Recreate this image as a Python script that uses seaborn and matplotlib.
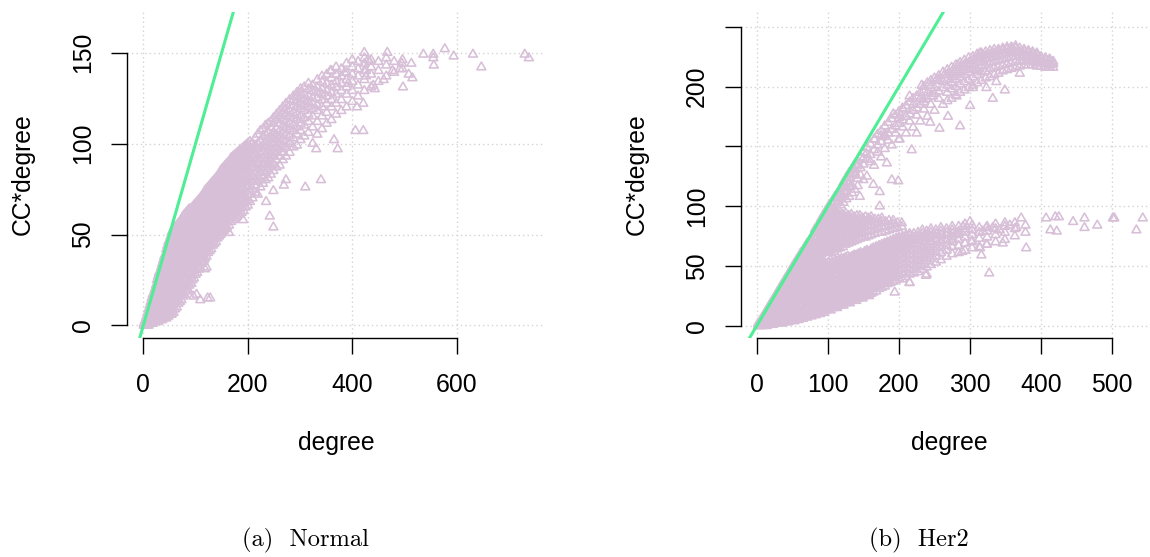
import matplotlib
matplotlib.use("Agg")
import matplotlib.pyplot as plt
from matplotlib.path import Path
import pandas as pd
import seaborn as sns

POINT_COLOR = "#D8BFD8"   # thistle
LINE_COLOR = "#4EEE94"    # seagreen2
GRID_COLOR = "#D3D3D3"

# ---------------------------------------------------------------- Normal
# (degree, [CC*degree values observed at that degree])
normal_dense = [
    (1, [0, 1]), (3, [0, 1, 2]), (4, [0, 3]), (6, [0, 2, 4, 5]),
    (8, [1, 3, 5, 7]), (10, [0, 2, 5, 7, 9]), (12, [1, 4, 6, 9, 11]),
    (14, [1, 3, 6, 8, 11, 13]), (16, [2, 5, 7, 10, 13, 15]),
    (18, [1, 4, 8, 10, 13, 16, 17]), (20, [2, 6, 9, 11, 15, 18]),
    (22, [3, 5, 8, 12, 14, 17, 20]), (24, [2, 6, 10, 13, 16, 19, 22]),
    (26, [3, 7, 9, 12, 16, 20, 23, 25]), (28, [2, 5, 8, 12, 15, 18, 22, 24, 27]),
    (30, [4, 7, 11, 14, 17, 21, 24, 26, 29]), (32, [3, 6, 9, 13, 16, 20, 23, 27, 30]),
    (34, [4, 8, 11, 15, 18, 22, 25, 28, 32]),
    (36, [3, 6, 10, 14, 17, 21, 24, 28, 31, 34]),
    (38, [5, 8, 12, 15, 19, 23, 26, 30, 33, 36]),
    (40, [4, 7, 11, 14, 18, 22, 25, 29, 32, 35, 38]),
    (42, [5, 9, 13, 16, 20, 24, 27, 31, 34, 37, 39]),
    (44, [4, 8, 12, 15, 19, 23, 26, 30, 33, 37, 40, 42]),
    (46, [6, 10, 13, 17, 21, 25, 28, 32, 35, 38, 41, 44]),
    (48, [5, 9, 12, 16, 20, 23, 27, 31, 34, 37, 40, 43, 46]),
    (50, [6, 11, 14, 18, 22, 25, 29, 33, 36, 39, 42, 45, 47]),
    (52, [7, 10, 13, 17, 21, 24, 28, 32, 35, 38, 41, 44, 47, 49]),
    (54, [6, 9, 15, 19, 23, 26, 30, 34, 37, 40, 43, 46, 49, 51]),
    (56, [8, 11, 14, 18, 22, 25, 29, 33, 36, 39, 42, 45, 48, 50, 52]),
    (58, [7, 12, 16, 20, 24, 27, 31, 35, 38, 41, 44, 47, 50, 53]),
    (61, [9, 13, 17, 21, 25, 28, 32, 36, 39, 42, 45, 48, 51, 54]),
    (64, [10, 15, 19, 22, 26, 30, 34, 37, 40, 43, 47, 50, 53, 55]),
    (67, [12, 14, 18, 23, 27, 31, 35, 38, 42, 45, 48, 51, 54, 56]),
    (70, [13, 17, 21, 25, 29, 32, 36, 39, 43, 46, 49, 52, 55, 57]),
    (73, [14, 19, 22, 26, 30, 34, 37, 41, 44, 47, 50, 53, 56, 58]),
    (76, [16, 18, 23, 28, 31, 35, 39, 42, 45, 48, 51, 54, 57, 60]),
    (79, [17, 21, 25, 29, 33, 36, 40, 43, 46, 49, 52, 55, 58, 61]),
    (82, [19, 22, 26, 30, 34, 38, 41, 44, 47, 50, 53, 56, 59, 62]),
    (85, [20, 24, 28, 32, 35, 39, 42, 45, 48, 51, 54, 57, 60, 63]),
    (88, [22, 25, 29, 33, 37, 40, 43, 46, 50, 53, 56, 59, 61, 64]),
    (91, [23, 27, 31, 34, 38, 41, 44, 48, 51, 54, 57, 60, 62, 64]),
    (94, [25, 28, 32, 36, 39, 42, 46, 49, 52, 55, 58, 61, 63, 65]),
    (97, [26, 30, 34, 37, 40, 44, 47, 50, 53, 56, 59, 62, 64, 66]),
    (100, [28, 31, 35, 38, 42, 45, 48, 51, 54, 57, 60, 63, 65, 67]),
    (103, [29, 33, 36, 40, 43, 46, 49, 52, 55, 58, 61, 64, 66, 68]),
    (106, [31, 34, 38, 41, 44, 47, 50, 53, 56, 59, 62, 65, 67, 69]),
    (109, [32, 36, 39, 42, 45, 48, 52, 55, 58, 61, 63, 66, 68, 70]),
    (112, [34, 37, 40, 44, 47, 50, 53, 56, 59, 62, 64, 67, 69, 71]),
    (115, [35, 39, 42, 45, 48, 51, 54, 57, 60, 63, 66, 68, 70, 72]),
    (118, [37, 40, 43, 46, 49, 53, 56, 59, 61, 64, 67, 69, 71, 74]),
    (121, [38, 41, 45, 48, 51, 54, 57, 60, 63, 65, 68, 70, 73, 75]),
    (124, [40, 43, 46, 49, 52, 55, 58, 61, 64, 66, 69, 72, 74, 76]),
    (127, [41, 44, 47, 50, 53, 56, 59, 62, 65, 68, 70, 73, 75, 77]),
    (130, [42, 45, 49, 52, 55, 58, 61, 63, 66, 69, 71, 74, 76, 78]),
    (133, [44, 47, 50, 53, 56, 59, 62, 65, 67, 70, 73, 75, 77, 79]),
    (136, [45, 48, 51, 54, 57, 60, 63, 66, 69, 71, 74, 76, 78, 80]),
    (139, [46, 49, 53, 56, 59, 61, 64, 67, 70, 72, 75, 77, 79, 81]),
    (142, [48, 51, 54, 57, 60, 63, 65, 68, 71, 73, 76, 78, 80, 82]),
    (145, [49, 52, 55, 58, 61, 64, 67, 69, 72, 74, 77, 79, 81, 83]),
    (148, [50, 53, 56, 59, 62, 65, 68, 70, 73, 75, 78, 80, 82, 85]),
    (151, [51, 54, 57, 60, 63, 66, 69, 71, 74, 77, 79, 81, 84, 86]),
    (154, [52, 55, 58, 61, 64, 67, 70, 72, 75, 78, 80, 83, 85, 87]),
    (157, [53, 56, 59, 62, 65, 68, 71, 73, 76, 79, 81, 84, 86, 88]),
    (160, [54, 57, 60, 63, 66, 69, 72, 74, 77, 80, 82, 85, 87, 89]),
    (164, [55, 58, 61, 64, 67, 70, 73, 76, 78, 81, 83, 86, 88, 90]),
    (168, [57, 60, 63, 66, 69, 72, 74, 77, 80, 82, 85, 87, 89, 92]),
    (172, [58, 61, 64, 67, 70, 73, 76, 78, 81, 84, 86, 88, 91, 93]),
    (176, [59, 62, 65, 68, 71, 74, 77, 80, 82, 85, 87, 90, 92, 94]),
    (180, [60, 63, 66, 69, 72, 75, 78, 81, 84, 86, 88, 91, 93, 95]),
    (184, [61, 64, 67, 70, 73, 76, 79, 82, 85, 87, 90, 92, 94, 96]),
    (188, [62, 65, 68, 72, 75, 78, 81, 83, 86, 89, 91, 93, 95, 97]),
    (192, [63, 67, 70, 73, 76, 79, 82, 85, 87, 90, 92, 94, 96, 98]),
    (196, [65, 68, 71, 74, 77, 80, 83, 86, 89, 91, 93, 95, 97, 99]),
    (200, [66, 69, 72, 76, 79, 82, 85, 87, 90, 92, 94, 96, 98, 100]),
]
normal_spread = [
    (204, [68, 74, 77, 81, 84, 89, 91, 96, 98, 101]),
    (209, [70, 75, 79, 82, 87, 89, 93, 97, 100]),
    (214, [73, 77, 80, 85, 87, 92, 94, 99, 103]),
    (219, [72, 79, 82, 86, 89, 93, 97, 100, 105]),
    (224, [76, 80, 84, 87, 91, 95, 98, 101, 107]),
    (229, [78, 82, 85, 89, 92, 96, 99, 104, 108]),
    (234, [80, 84, 87, 90, 94, 98, 101, 105, 110]),
    (239, [81, 86, 89, 93, 96, 99, 103, 106, 111]),
    (244, [83, 88, 91, 94, 98, 101, 104, 109, 112]),
    (249, [85, 89, 93, 96, 100, 103, 106, 111, 114]),
    (255, [87, 91, 95, 98, 102, 105, 108, 113, 116]),
    (261, [88, 93, 97, 100, 104, 107, 111, 115, 118]),
    (267, [91, 95, 99, 102, 106, 110, 113, 117, 120]),
    (273, [93, 98, 101, 105, 109, 112, 116, 119, 122]),
    (280, [95, 100, 104, 108, 111, 115, 118, 121, 124]),
    (287, [98, 103, 107, 110, 114, 117, 121, 124, 126]),
    (294, [99, 105, 109, 113, 116, 120, 123, 126, 128]),
    (301, [102, 107, 111, 115, 119, 122, 125, 128, 130]),
    (308, [104, 110, 114, 118, 121, 124, 127, 131]),
    (316, [106, 112, 116, 120, 123, 126, 130, 133]),
    (324, [100, 109, 115, 119, 122, 125, 129, 132]),
    (333, [105, 112, 118, 121, 125, 128, 131, 135]),
    (342, [108, 115, 120, 124, 127, 130, 134, 137]),
    (351, [111, 117, 122, 126, 129, 133, 138]),
    (360, [113, 120, 124, 128, 132, 136, 140]),
    (369, [116, 122, 127, 131, 134, 138, 142]),
    (379, [118, 124, 129, 133, 137, 141]),
    (389, [120, 127, 131, 135, 139, 144]),
    (400, [123, 129, 134, 138, 142, 146]),
    (411, [126, 132, 137, 141, 145]),
    (423, [129, 135, 140, 144, 147]),
    (436, [131, 138, 142, 146]),
    (450, [134, 140, 145]),
    (465, [137, 143, 147]),
    (480, [139, 145]),
    (496, [141, 146]),
]
normal_extra_x = [123, 109, 96, 121, 116, 92, 128, 102, 86, 118, 106,
                  164, 191, 235, 249, 249, 242, 273, 269, 310, 340, 331,
                  365, 372, 406, 421, 409, 421, 385, 392, 358, 423, 433,
                  430, 426, 426, 440, 443, 460, 467, 477, 491, 495, 497,
                  508, 513, 515, 536, 555, 555, 556, 577, 594, 631, 647,
                  730, 738]
normal_extra_y = [15, 14, 16, 32, 36, 23, 15, 17, 19, 31, 31,
                  51, 58, 68, 74, 54, 60, 80, 77, 76, 80, 97,
                  102, 97, 107, 107, 120, 122, 139, 133, 140, 150, 145,
                  146, 140, 137, 132, 130, 135, 150, 140, 141, 144, 131,
                  138, 144, 136, 149, 149, 147, 143, 152, 148, 149, 142,
                  149, 147]

# ---------------------------------------------------------------- Her2
her2_fan = [
    (2, [0, 1, 2]), (4, [0, 2, 3]), (6, [0, 1, 3, 5]), (8, [0, 2, 4, 6, 7]),
    (10, [1, 3, 5, 7, 9]), (12, [1, 3, 6, 8, 11]), (14, [0, 2, 5, 7, 10, 13]),
    (16, [1, 4, 6, 9, 12, 15]), (18, [1, 3, 6, 10, 13, 15, 17]),
    (20, [2, 4, 7, 11, 14, 16, 19]), (23, [1, 4, 8, 11, 14, 18, 20, 22]),
    (26, [2, 5, 9, 12, 15, 19, 22, 25]), (29, [2, 6, 9, 13, 17, 20, 24, 26, 28]),
    (32, [3, 5, 8, 12, 16, 19, 23, 26, 29, 31]),
    (35, [2, 6, 10, 14, 17, 21, 24, 28, 31, 34]),
    (38, [3, 7, 11, 14, 18, 22, 25, 29, 32, 35, 37]),
    (41, [4, 6, 10, 13, 17, 21, 25, 28, 32, 35, 38, 40]),
    (44, [3, 7, 11, 15, 19, 22, 26, 30, 33, 37, 40, 43]),
    (47, [4, 8, 12, 16, 19, 23, 27, 31, 34, 38, 41, 44, 46]),
    (50, [5, 7, 11, 15, 19, 23, 27, 30, 34, 38, 41, 44, 47, 49]),
    (53, [4, 8, 13, 17, 20, 24, 28, 32, 35, 39, 43, 46, 49, 52]),
    (56, [6, 9, 12, 16, 21, 25, 29, 33, 36, 40, 44, 47, 50, 53, 55]),
    (59, [5, 10, 14, 18, 22, 26, 30, 33, 37, 41, 45, 48, 51, 54, 57]),
    (62, [7, 9, 13, 17, 21, 25, 29, 33, 37, 41, 44, 48, 52, 55, 58, 61]),
    (65, [6, 11, 15, 19, 23, 27, 31, 35, 39, 42, 46, 50, 53, 57, 60, 63]),
    (68, [8, 10, 14, 18, 22, 26, 30, 34, 38, 42, 46, 49, 53, 56, 60, 63, 66]),
    (71, [7, 12, 16, 20, 24, 28, 32, 36, 40, 44, 48, 51, 55, 58, 62, 65, 69]),
    (74, [9, 11, 15, 19, 23, 27, 31, 35, 39, 43, 47, 51, 54, 58, 61, 65, 68, 71]),
    (77, [8, 13, 17, 21, 25, 29, 33, 37, 41, 45, 49, 53, 56, 60, 63, 67, 70, 73]),
    (80, [10, 12, 16, 20, 24, 28, 32, 36, 40, 44, 48, 52, 55, 59, 63, 66, 70, 74, 77]),
    (83, [9, 14, 18, 22, 26, 30, 34, 38, 42, 46, 50, 54, 57, 61, 65, 68, 72, 75, 79]),
    (86, [11, 13, 17, 21, 25, 29, 33, 37, 41, 45, 49, 53, 57, 60, 64, 68, 71, 75, 78, 82]),
    (89, [10, 15, 19, 23, 27, 31, 35, 39, 43, 47, 51, 55, 59, 62, 66, 70, 73, 77, 80, 84]),
    (92, [12, 14, 18, 22, 26, 30, 34, 38, 42, 46, 50, 54, 61, 64, 68, 72, 75, 79, 83, 86]),
    (95, [11, 16, 20, 24, 28, 32, 36, 40, 44, 48, 52, 62, 66, 70, 73, 77, 81, 84, 88]),
    (98, [13, 15, 19, 23, 27, 31, 35, 39, 43, 47, 51, 63, 67, 71, 75, 78, 82, 86, 90]),
]
her2_lower = [
    (101, [14, 17, 21, 25, 29, 33, 37, 41, 45, 49, 53]),
    (104, [13, 16, 20, 24, 28, 32, 36, 40, 44, 48, 52, 55]),
    (107, [15, 18, 22, 26, 30, 34, 38, 42, 46, 50, 53]),
    (110, [16, 19, 23, 27, 31, 35, 39, 43, 47, 51, 54]),
    (113, [15, 18, 22, 26, 30, 34, 38, 42, 46, 50, 54]),
    (116, [17, 20, 24, 28, 32, 36, 40, 44, 48, 52, 55]),
    (119, [18, 22, 26, 30, 34, 38, 42, 46, 50, 53, 56]),
    (122, [17, 21, 25, 29, 33, 37, 41, 45, 49, 53, 56]),
    (125, [19, 23, 27, 31, 35, 39, 43, 47, 51, 54, 57]),
    (128, [20, 24, 28, 32, 36, 40, 44, 48, 52, 55, 58]),
    (131, [19, 22, 26, 30, 34, 38, 42, 46, 50, 54, 57]),
    (134, [21, 24, 28, 32, 36, 40, 44, 48, 52, 56, 58]),
    (137, [22, 26, 30, 34, 38, 42, 46, 50, 54, 57, 59]),
    (140, [21, 25, 29, 33, 37, 41, 45, 49, 53, 56, 59]),
    (143, [23, 27, 31, 35, 39, 43, 47, 51, 55, 58, 60]),
    (146, [24, 28, 32, 36, 40, 44, 48, 52, 56, 59, 61]),
    (149, [23, 26, 30, 34, 38, 42, 46, 50, 54, 57, 60]),
    (152, [25, 29, 33, 37, 41, 45, 49, 53, 57, 60, 62]),
    (155, [26, 30, 34, 38, 42, 46, 50, 54, 58, 61, 63]),
    (158, [25, 28, 32, 36, 40, 44, 48, 52, 56, 59, 62]),
    (161, [27, 31, 35, 39, 43, 47, 51, 55, 59, 62, 64]),
    (164, [28, 32, 36, 40, 44, 48, 52, 56, 60, 63, 65]),
    (168, [29, 33, 37, 41, 45, 49, 53, 57, 61, 64, 66]),
    (172, [31, 34, 38, 42, 46, 50, 54, 58, 62, 65, 67]),
    (176, [32, 36, 40, 44, 48, 52, 56, 60, 63, 66, 68]),
    (180, [33, 37, 41, 45, 49, 53, 57, 61, 64, 67, 69]),
    (184, [35, 38, 42, 46, 50, 54, 58, 62, 65, 68, 70]),
    (188, [36, 40, 44, 48, 52, 56, 60, 63, 66, 69, 71]),
    (192, [37, 41, 45, 49, 53, 57, 61, 64, 67, 70, 72]),
    (196, [38, 42, 46, 50, 54, 58, 62, 65, 68, 71, 73]),
    (200, [40, 43, 47, 51, 55, 59, 63, 66, 69, 72, 74]),
    (205, [39, 44, 48, 52, 56, 60, 64, 67, 70, 73, 75]),
    (210, [41, 45, 49, 53, 57, 61, 65, 68, 71, 74, 76]),
    (215, [36, 43, 47, 51, 55, 59, 63, 66, 69, 72, 75, 77]),
    (221, [44, 48, 52, 56, 60, 64, 68, 71, 74, 77]),
    (227, [45, 50, 54, 58, 62, 66, 69, 72, 75, 78]),
    (233, [47, 51, 56, 60, 64, 67, 71, 74, 77, 80]),
    (239, [43, 49, 54, 58, 62, 66, 70, 73, 76, 79]),
    (245, [51, 56, 60, 64, 68, 71, 75, 78, 81]),
    (252, [53, 58, 62, 66, 70, 73, 77, 80]),
    (259, [55, 61, 65, 69, 72, 76, 79, 82]),
    (267, [58, 63, 67, 71, 75, 78, 81]),
    (275, [60, 66, 70, 74, 77, 80, 83]),
    (284, [61, 67, 72, 76, 79, 83]),
    (293, [63, 69, 74, 78, 81, 85]),
    (303, [65, 71, 76, 80, 84]),
    (313, [66, 73, 78, 82]),
    (324, [68, 74, 79, 83]),
    (336, [70, 76, 81, 85]),
    (349, [72, 78, 83, 86]),
    (363, [75, 81, 86]),
    (378, [78, 84]),
]
her2_middle = [
    (101, [58, 62, 66, 70, 74, 78, 82, 86, 90, 94]),
    (105, [61, 64, 68, 72, 76, 80, 84, 88, 92, 96]),
    (109, [62, 66, 70, 74, 78, 82, 86, 90, 93]),
    (113, [64, 67, 71, 75, 79, 83, 87, 91, 94]),
    (117, [65, 69, 73, 77, 81, 85, 89, 92]),
    (121, [66, 70, 74, 78, 82, 86, 90, 93]),
    (125, [68, 71, 75, 79, 83, 87, 91, 94]),
    (129, [69, 73, 77, 81, 85, 89, 92]),
    (133, [70, 74, 78, 82, 86, 90, 93]),
    (137, [71, 75, 79, 83, 87, 91]),
    (141, [72, 76, 80, 84, 88, 92]),
    (145, [73, 77, 81, 85, 89, 92]),
    (149, [74, 78, 82, 86, 90]),
    (153, [74, 79, 83, 87, 91]),
    (157, [75, 79, 83, 87, 90]),
    (161, [76, 80, 84, 88, 91]),
    (166, [77, 81, 85, 89]),
    (171, [78, 82, 86, 89]),
    (176, [78, 83, 87, 90]),
    (181, [79, 83, 87]),
    (186, [80, 84, 88]),
    (192, [81, 85, 88]),
    (198, [82, 86]),
    (204, [83, 86]),
]
her2_upper = [
    (82, [79, 81]), (86, [81, 84]), (90, [84, 88, 89]), (94, [86, 90, 93]),
    (98, [88, 92, 95, 97]), (102, [91, 95, 99, 101]), (106, [93, 97, 101, 104]),
    (110, [95, 99, 104, 108]), (114, [98, 103, 107, 111]),
    (118, [101, 106, 110, 115]), (122, [103, 108, 113, 118, 120]),
    (126, [106, 111, 116, 121, 124]), (130, [108, 119, 124, 128]),
    (134, [111, 117, 127, 131]), (138, [114, 126, 131, 135]),
    (142, [117, 123, 134, 138]), (146, [126, 132, 141]),
    (150, [122, 135, 140, 145]), (155, [125, 139, 149]),
    (160, [137, 143, 152]), (165, [134, 147, 156]),
    (170, [145, 151, 160]), (175, [141, 154, 159, 163]),
    (180, [148, 158, 167]), (185, [155, 161, 170]),
    (190, [151, 164, 173]), (195, [161, 167, 176]),
    (200, [156, 169, 174, 179]), (205, [166, 172, 182]),
    (210, [161, 175, 184]), (215, [171, 177, 187]),
    (220, [166, 180, 185, 190]), (225, [176, 182, 192]),
    (230, [171, 185, 190, 195]), (235, [181, 187, 197, 200]),
    (240, [175, 190, 195, 203]), (245, [185, 192, 201, 205]),
    (250, [180, 194, 199, 207]), (256, [190, 196, 205, 209]),
    (262, [185, 199, 204, 212]), (268, [188, 195, 201, 206, 210, 214]),
    (274, [190, 198, 203, 208, 212, 216]), (280, [193, 200, 206, 210, 214, 218]),
    (286, [195, 202, 208, 212, 216, 220]), (292, [197, 204, 210, 214, 218, 222]),
    (298, [199, 206, 212, 216, 220, 224]), (304, [201, 208, 214, 218, 222, 225]),
    (310, [203, 210, 215, 220, 224, 227]), (316, [205, 212, 217, 221, 225, 228]),
    (322, [207, 213, 218, 223, 226, 229]), (328, [208, 215, 220, 224, 227, 230]),
    (334, [210, 216, 221, 225, 228, 231]), (340, [211, 217, 222, 226, 229, 231]),
    (346, [213, 218, 223, 227, 230, 232]), (352, [214, 219, 224, 228, 231, 233]),
    (358, [215, 220, 225, 228, 231, 233]), (364, [216, 221, 225, 229, 232, 234]),
    (370, [217, 222, 226, 229, 232]), (376, [218, 222, 226, 229, 231]),
    (382, [218, 222, 225, 228, 230]), (388, [218, 221, 224, 227, 229]),
    (394, [217, 220, 223, 226, 228]), (400, [217, 220, 223, 225]),
    (406, [216, 219, 222, 224]), (412, [216, 218, 221, 223]),
    (417, [216, 219, 221]),
]
her2_extra_x = [327, 372, 365, 356, 342, 332, 323, 318, 300, 290, 281, 276,
                302, 314, 323, 316, 346, 379, 289, 407, 420, 425, 413, 422,
                445, 461, 461, 479, 501, 503, 534, 543, 238, 215, 194,
                173, 145, 164, 173, 199, 190, 183, 218, 201, 225, 244, 257,
                286, 269, 332, 349, 370, 117, 131, 138, 126, 108, 98, 154,
                166, 180, 192, 206, 215, 232, 253, 264, 283, 314, 360, 374,
                398, 412, 304, 323, 281, 248, 234, 309, 337, 300]
her2_extra_y = [44, 90, 82, 84, 80, 82, 82, 79, 87, 83, 77, 72,
                70, 65, 68, 59, 69, 65, 62, 90, 91, 91, 80, 79,
                87, 90, 82, 84, 90, 90, 80, 90, 42, 36, 28,
                100, 108, 118, 112, 121, 122, 136, 147, 156, 161, 170, 165,
                167, 175, 190, 197, 211, 111, 116, 128, 121, 97, 91, 144,
                156, 160, 177, 181, 192, 201, 206, 210, 218, 228, 232, 221,
                221, 218, 199, 199, 192, 192, 189, 213, 204, 184]


def to_frame(column_groups, extra_x, extra_y):
    xs, ys = [], []
    for group in column_groups:
        for deg, values in group:
            xs.extend([deg] * len(values))
            ys.extend(values)
    xs.extend(extra_x)
    ys.extend(extra_y)
    return pd.DataFrame({"degree": xs, "ccdeg": ys})


normal_df = to_frame([normal_dense, normal_spread], normal_extra_x, normal_extra_y)
her2_df = to_frame([her2_fan, her2_lower, her2_middle, her2_upper],
                   her2_extra_x, her2_extra_y)

# open triangle in the style of R's pch = 2
TRIANGLE = Path([(-1.0, -0.577), (1.0, -0.577), (0.0, 1.155), (-1.0, -0.577)],
                closed=True)

plt.rcParams["font.family"] = ["Liberation Sans", "DejaVu Sans"]
LABEL_SIZE = 17.8

fig = plt.figure(figsize=(11.5, 5.57), dpi=100)
ax_bottom = (557 - 337.5) / 557
ax_height = 325.8 / 557
ax_n = fig.add_axes([127.1 / 1150, ax_bottom, 418.0 / 1150, ax_height])
ax_h = fig.add_axes([741.3 / 1150, ax_bottom, 416.9 / 1150, ax_height])


def style_panel(ax, df, xlim, ylim, xticks, yticks, yticklabels, ylabel_x):
    sns.scatterplot(data=df, x="degree", y="ccdeg", ax=ax, marker=TRIANGLE,
                    s=55, color=POINT_COLOR, facecolors="none",
                    edgecolor=POINT_COLOR, linewidth=1.15, legend=False,
                    zorder=2)
    ax.axline((0, 0), slope=1, color=LINE_COLOR, lw=2.2, zorder=3)
    ax.set_xlim(*xlim)
    ax.set_ylim(*ylim)
    ax.set_xticks(xticks)
    ax.set_yticks(yticks)
    ax.set_xticklabels([str(t) for t in xticks])
    ax.set_yticklabels(yticklabels, rotation=90, va="center")
    ax.grid(True, color=GRID_COLOR, linestyle=(0, (1, 2.2)), linewidth=1.0)
    ax.set_axisbelow(True)
    for side in ("top", "right"):
        ax.spines[side].set_visible(False)
    ax.spines["left"].set_bounds(yticks[0], yticks[-1])
    ax.spines["bottom"].set_bounds(xticks[0], xticks[-1])
    for side in ("left", "bottom"):
        ax.spines[side].set_linewidth(1.0)
        ax.spines[side].set_color("black")
    ax.tick_params(axis="both", direction="out", length=11.5, width=1.0,
                   colors="black", labelsize=LABEL_SIZE)
    ax.tick_params(axis="x", pad=14.0)
    ax.tick_params(axis="y", pad=11.7)
    ax.set_xlabel("degree", fontsize=LABEL_SIZE, va="baseline")
    ax.xaxis.set_label_coords(0.5, -0.3445)
    ax.set_ylabel("CC*degree", fontsize=LABEL_SIZE, va="baseline",
                  rotation_mode="anchor")
    ax.yaxis.set_label_coords(ylabel_x, 0.5)


style_panel(ax_n, normal_df, (-31, 769), (-6.6, 172.5),
            [0, 200, 400, 600], [0, 50, 100, 150],
            ["0", "50", "100", "150"], -0.2338)
style_panel(ax_h, her2_df, (-21.7, 564.7), (-9.75, 262.7),
            [0, 100, 200, 300, 400, 500], [0, 50, 100, 150, 200, 250],
            ["0", "50", "100", "", "200", ""], -0.235)

caption_font = dict(family="cmr10", fontsize=17.6, ha="center", va="baseline")
fig.text(305.5 / 1150, 0.0185, "(a)  Normal", **caption_font)
fig.text(919 / 1150, 0.0185, "(b)  Her2", **caption_font)

fig.savefig("out.png", dpi=100, facecolor="white")
